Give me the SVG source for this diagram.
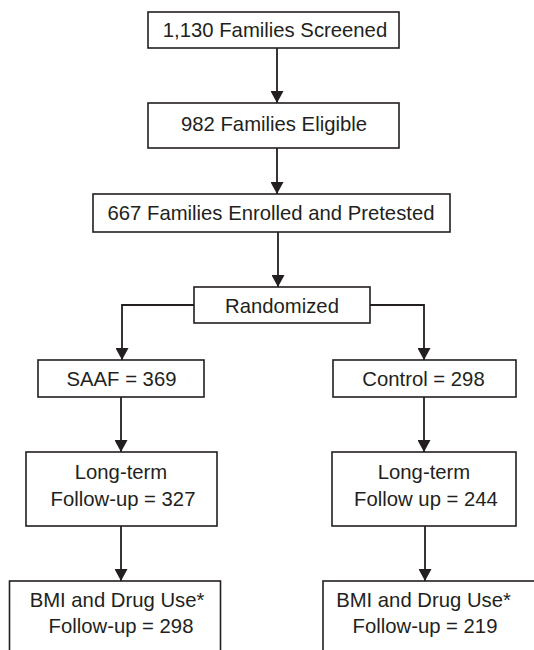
<svg xmlns="http://www.w3.org/2000/svg" width="534" height="650" viewBox="0 0 534 650">
<style>
.box{fill:#fff;stroke:#231f20;stroke-width:1.6}
.t{font-family:"Liberation Sans",Arial,sans-serif;font-size:20.3px;fill:#231f20;text-anchor:middle}
.c{fill:none;stroke:#231f20;stroke-width:1.8}
</style>
<defs>
<marker id="ah" markerUnits="userSpaceOnUse" markerWidth="13" markerHeight="13" refX="12" refY="6.5" orient="auto">
<path d="M0,0 L12,6.5 L0,13 z" fill="#231f20"/>
</marker>
</defs>
<rect width="534" height="650" fill="#fff"/>
<g id="connectors">
<path class="c" d="M277,48 V103" marker-end="url(#ah)"/>
<path class="c" d="M277,148 V194" marker-end="url(#ah)"/>
<path class="c" d="M278,232 V287" marker-end="url(#ah)"/>
<path class="c" d="M194,305 H122 V360" marker-end="url(#ah)"/>
<path class="c" d="M370,305 H424 V360" marker-end="url(#ah)"/>
<path class="c" d="M121,397 V452" marker-end="url(#ah)"/>
<path class="c" d="M424,397 V452" marker-end="url(#ah)"/>
<path class="c" d="M121,526 V581" marker-end="url(#ah)"/>
<path class="c" d="M425,526 V581" marker-end="url(#ah)"/>
</g>
<g id="screened">
<rect class="box" x="148" y="12" width="251" height="36"/>
<text class="t" x="275" y="37">1,130 Families Screened</text>
</g>
<g id="eligible">
<rect class="box" x="148" y="103" width="251" height="45"/>
<text class="t" x="274" y="131">982 Families Eligible</text>
</g>
<g id="enrolled">
<rect class="box" x="93" y="194" width="357" height="38"/>
<text class="t" x="271" y="220">667 Families Enrolled and Pretested</text>
</g>
<g id="randomized">
<rect class="box" x="194" y="287" width="176" height="36"/>
<text class="t" x="282" y="313">Randomized</text>
</g>
<g id="saaf">
<rect class="box" x="38" y="360" width="166" height="37"/>
<text class="t" x="121.5" y="386">SAAF = 369</text>
</g>
<g id="control">
<rect class="box" x="333" y="360" width="183" height="37"/>
<text class="t" x="423.5" y="386">Control = 298</text>
</g>
<g id="longterm-saaf">
<rect class="box" x="26" y="452" width="191" height="74"/>
<text class="t" x="121" y="479">Long-term</text>
<text class="t" x="123" y="506">Follow-up = 327</text>
</g>
<g id="longterm-control">
<rect class="box" x="332" y="452" width="184" height="74"/>
<text class="t" x="424" y="479">Long-term</text>
<text class="t" x="426" y="506">Follow up = 244</text>
</g>
<g id="bmi-saaf">
<rect class="box" x="9.5" y="581" width="211" height="80"/>
<text class="t" x="117" y="607">BMI and Drug Use*</text>
<text class="t" x="121" y="633">Follow-up = 298</text>
</g>
<g id="bmi-control">
<rect class="box" x="323" y="581" width="230" height="80"/>
<text class="t" x="423.5" y="607">BMI and Drug Use*</text>
<text class="t" x="425" y="633">Follow-up = 219</text>
</g>
</svg>
